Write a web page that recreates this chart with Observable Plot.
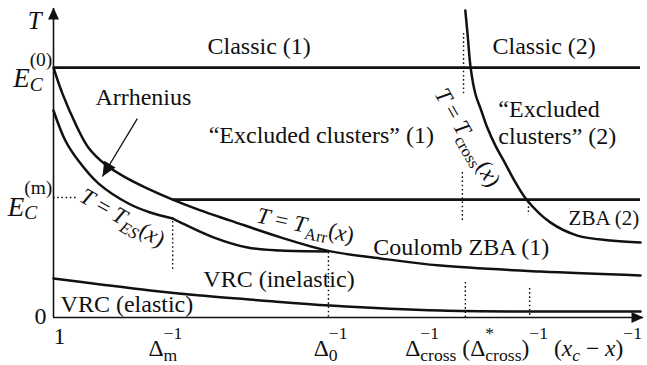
<!DOCTYPE html>
<html><head><meta charset="utf-8">
<script src="https://cdn.jsdelivr.net/npm/d3@7"></script>
<script src="https://cdn.jsdelivr.net/npm/@observablehq/plot@0.6"></script>
<style>body{margin:0;background:#fff}</style>
</head><body>
<script>
// ---- data (schematic units: x in [0,100], T in [0,100]) ----
const upperCurve = [[0,83.3],[1.5,74.7],[3.7,64.7],[5.9,56.7],[8.8,51.0],[12.2,46.7],[15.6,43.3],[20.2,39.3],[24.9,35.7],[30.0,32.3],[38.5,26.7],[46.4,22.3],[55.4,19.7],[65.6,17.3],[82.5,15.3],[99.5,14.0]];
const esCurveA = [[0,69.0],[2.0,59.0],[4.2,52.3],[7.6,44.7],[12.7,38.0],[16.4,35.0],[20.2,33.0]];
const esCurveB = [[20.2,33.0],[21.5,31.7],[27.1,26.7],[32.9,23.3],[38.5,22.3],[46.4,22.0]];
const crossCurve = [[69.8,102.3],[70.2,94.0],[70.7,83.3],[71.5,74.6],[72.5,69.0],[73.5,63.4],[74.9,57.3],[76.3,52.3],[78.3,45.0],[80.3,39.0],[84.2,31.7],[88.8,27.3],[94.4,25.7],[99.5,25.0]];
const vrcCurve = [[0,13.0],[8.0,11.0],[16.4,9.0],[24.9,7.3],[35.1,5.7],[46.9,4.0],[65.6,2.3],[82.5,2.0],[99.5,2.0]];
const levels = [{T:83.3, x1:0, x2:99.5}, {T:39.3, x1:20.2, x2:99.5}];
const dottedV = [{x:20.2,T1:32,T2:15.7},{x:46.6,T1:21.7,T2:0},{x:69.5,T1:94.7,T2:74.0},{x:69.3,T1:48.3,T2:31.7},{x:69.8,T1:11.7,T2:0},{x:80.5,T1:38.3,T2:34.0},{x:80.7,T1:9.7,T2:0}];
const dottedH = [{T:40.0, x1:0, x2:4.1}];
const axisY = [{x:0, T1:0, T2:103}];
const axisX = [{T:0, x1:0, x2:100}];
const axisHeads = [{x:0, T:103.3, dir:0}, {x:100, T:0, dir:90}];
const arrheniusArrow = {x1:14.2, T1:66.3, x2:8.3, T2:47.0};

const regionLabels = [
  {text:"Classic (1)", x:26.1, T:87.7},
  {text:"Classic (2)", x:74.4, T:87.7},
  {text:"“Excluded clusters” (1)", x:26.3, T:58.3},
  {text:"“Excluded\nclusters” (2)", x:75.4, T:58.0},
  {text:"Arrhenius", x:7.1, T:71.0},
  {text:"Coulomb ZBA (1)", x:54.2, T:20.7},
  {text:"VRC (inelastic)", x:25.4, T:10.3},
  {text:"VRC (elastic)", x:1.2, T:1.7}
];
const smallRegionLabels = [{text:"ZBA (2)", x:87.3, T:30.7}];
const formulaLabels = [
  {text:"|T| = |T|_{|ES|}(|x|)", x:11.7, T:33.3},
  {text:"|T| = |T|_{Arr}(|x|)", x:42.7, T:30.7},
  {text:"|T| = |T|_{cross}(|x|)", x:70.2, T:60.0}
];
const formulaAngles = [30, 12, 60];
const yTickLabels = [
  {text:"|E|_{|C|}^{(0)}", x:-0.2, T:76.7},
  {text:"|E|_{|C|}^{(m)}", x:-0.2, T:34.0}
];
const zeroLabel = [{text:"0", x:-2.2, T:-2.0}];
const oneLabel = [{text:"1", x:1.0, T:-8.7}];
const xTickLabels = [
  {text:"Δ_{m}^{−1}", x:16.1, T:-12.7},
  {text:"Δ_{0}^{−1}", x:44.1, T:-12.7},
  {text:"Δ_{cross}^{−1} (Δ_{cross}^{*})^{−1} (|x|_{|c|} − |x|)^{−1}", x:59.6, T:-12.7}
];
const yTitle = [{text:"|T|", x:-3.2, T:96.3}];

// ---- font detection (pick first installed serif face) ----
function pickFont(cands) {
  const ctx = document.createElement("canvas").getContext("2d");
  const probe = "Classic mmmwwwiiilll (1) ABC";
  const base = {};
  for (const g of ["monospace", "sans-serif"]) { ctx.font = `40px ${g}`; base[g] = ctx.measureText(probe).width; }
  for (const c of cands) {
    let ok = true;
    for (const g of ["monospace", "sans-serif"]) {
      ctx.font = `40px "${c}", ${g}`;
      if (Math.abs(ctx.measureText(probe).width - base[g]) < 0.5) ok = false;
    }
    if (ok) return `"${c}"`;
  }
  return "serif";
}
const serif = pickFont(["Liberation Serif", "Times New Roman", "Times", "Tinos", "Nimbus Roman", "Nimbus Roman No9 L", "FreeSerif", "DejaVu Serif", "Noto Serif"]) + ", serif";

// ---- layout ----
const W = 647, H = 365, mL = 53, mR = 4, mT = 17, mB = 48;
const kx = (W - mL - mR) / 100, ky = (H - mT - mB) / 100;
const ink = "#111";

const arrowHead = {
  draw(ctx, size) {
    const r = Math.sqrt(size / Math.PI);
    const h = 2.4 * r, w = 1.1 * r;
    ctx.moveTo(0, 0); ctx.lineTo(w, h); ctx.lineTo(-w, h); ctx.closePath();
  }
};
const arrAngle = Math.atan2((arrheniusArrow.x2 - arrheniusArrow.x1) * kx, (arrheniusArrow.T2 - arrheniusArrow.T1) * ky) * 180 / Math.PI;

const px = d => d[0], py = d => d[1];
const curveOpts = {x: px, y: py, stroke: ink, strokeWidth: 2.5, curve: "catmull-rom"};
const txt = {x: "x", y: "T", text: "text", fill: ink, fontFamily: serif};

const plot = Plot.plot({
  width: W, height: H, marginLeft: mL, marginRight: mR, marginTop: mT, marginBottom: mB,
  x: {domain: [0, 100], axis: null},
  y: {domain: [0, 100], axis: null},
  style: {"font-family": serif, "background": "#fff", "color": ink, "overflow": "visible"},
  marks: [
    Plot.ruleX(dottedV, {x: "x", y1: "T1", y2: "T2", stroke: ink, strokeWidth: 1.4, strokeDasharray: "1.6,2.6"}),
    Plot.ruleY(dottedH, {y: "T", x1: "x1", x2: "x2", stroke: ink, strokeWidth: 1.4, strokeDasharray: "1.6,2.6"}),
    Plot.ruleX(axisY, {x: "x", y1: "T1", y2: "T2", stroke: ink, strokeWidth: 1.6}),
    Plot.ruleY(axisX, {y: "T", x1: "x1", x2: "x2", stroke: ink, strokeWidth: 1.6}),
    Plot.dot([axisHeads[0]], {x: "x", y: "T", symbol: arrowHead, r: 5, fill: ink, stroke: "none", rotate: axisHeads[0].dir}),
    Plot.dot([axisHeads[1]], {x: "x", y: "T", symbol: arrowHead, r: 5, fill: ink, stroke: "none", rotate: axisHeads[1].dir}),
    Plot.ruleY(levels, {y: "T", x1: "x1", x2: "x2", stroke: ink, strokeWidth: 2.8}),
    Plot.line(upperCurve, curveOpts),
    Plot.line(esCurveA, curveOpts),
    Plot.line(esCurveB, curveOpts),
    Plot.line(crossCurve, curveOpts),
    Plot.line(vrcCurve, curveOpts),
    Plot.link([arrheniusArrow], {x1: "x1", y1: "T1", x2: "x2", y2: "T2", stroke: ink, strokeWidth: 1.3}),
    Plot.dot([arrheniusArrow], {x: "x2", y: "T2", symbol: arrowHead, r: 6, fill: ink, stroke: "none", rotate: arrAngle}),
    Plot.text(regionLabels, {...txt, textAnchor: "start", lineAnchor: "bottom", lineHeight: 1.1, fontSize: 24}),
    Plot.text(smallRegionLabels, {...txt, textAnchor: "start", lineAnchor: "bottom", fontSize: 21}),
    ...formulaLabels.map((d, i) => Plot.text([d], {...txt, rotate: formulaAngles[i], fontSize: 23})),
    Plot.text(yTickLabels, {...txt, textAnchor: "end", lineAnchor: "bottom", fontSize: 27}),
    Plot.text(zeroLabel, {...txt, lineAnchor: "bottom", fontSize: 24}),
    Plot.text(oneLabel, {...txt, lineAnchor: "bottom", fontSize: 24}),
    Plot.text(xTickLabels, {...txt, textAnchor: "start", lineAnchor: "bottom", fontSize: 23.5}),
    Plot.text(yTitle, {...txt, lineAnchor: "bottom", fontSize: 25})
  ]
});
document.body.append(plot);
plot.querySelectorAll("text").forEach(t => t.style.fontFamily = serif);

// ---- rich text: |italic|, _{sub}, ^{sup} (stacked when adjacent) ----
const scriptStyle = {
  def: {scale: 0.72, sub: 0.25, sup: 0.72},
  E: {scale: 0.72, sub: 0.12, sup: 0.8},
  tick: {scale: 0.75, sub: 0.25, sup: 0.7}
};
function parse(s) {
  const segs = []; let italic = false, script = "base", buf = "";
  const flush = () => { if (buf) segs.push({text: buf, italic, script}); buf = ""; };
  for (let i = 0; i < s.length; i++) {
    const c = s[i];
    if (c === "|") { flush(); italic = !italic; continue; }
    if ((c === "_" || c === "^") && s[i + 1] === "{") { flush(); script = c === "_" ? "sub" : "sup"; i++; continue; }
    if (c === "}" && script !== "base") { flush(); script = "base"; continue; }
    buf += c;
  }
  flush();
  return segs;
}
const NS = "http://www.w3.org/2000/svg";
plot.querySelectorAll("text").forEach(t => {
  if (t.querySelector("tspan")) return;
  const s = t.textContent;
  if (!(s.includes("|") || s.includes("_{") || s.includes("^{"))) return;
  const st = s.startsWith("|E|") ? scriptStyle.E : s.startsWith("Δ") ? scriptStyle.tick : scriptStyle.def;
  const fs = parseFloat(getComputedStyle(t).fontSize);
  t.textContent = "";
  t.style.whiteSpace = "pre";
  let cur = 0, prevScript = null, prevW = 0, carry = 0;
  for (const seg of parse(s)) {
    const ts = document.createElementNS(NS, "tspan");
    ts.textContent = seg.text;
    if (seg.italic) ts.setAttribute("font-style", "italic");
    let target = 0;
    if (seg.script !== "base") ts.setAttribute("font-size", (st.scale * fs) + "px");
    if (seg.script === "sub") target = st.sub * fs;
    if (seg.script === "sup") target = -st.sup * fs;
    if (target !== cur) ts.setAttribute("dy", target - cur);
    cur = target;
    t.appendChild(ts);
    const w = ts.getComputedTextLength();
    let dx = 0;
    if (seg.script !== "base" && prevScript && prevScript !== "base" && prevScript !== "stacked" && prevScript !== seg.script) {
      dx = -prevW; carry = Math.max(0, prevW - w); prevScript = "stacked";
    } else { dx = carry; carry = 0; prevScript = seg.script; }
    prevW = w;
    if (dx) ts.setAttribute("dx", dx);
  }
});
</script></body></html>
